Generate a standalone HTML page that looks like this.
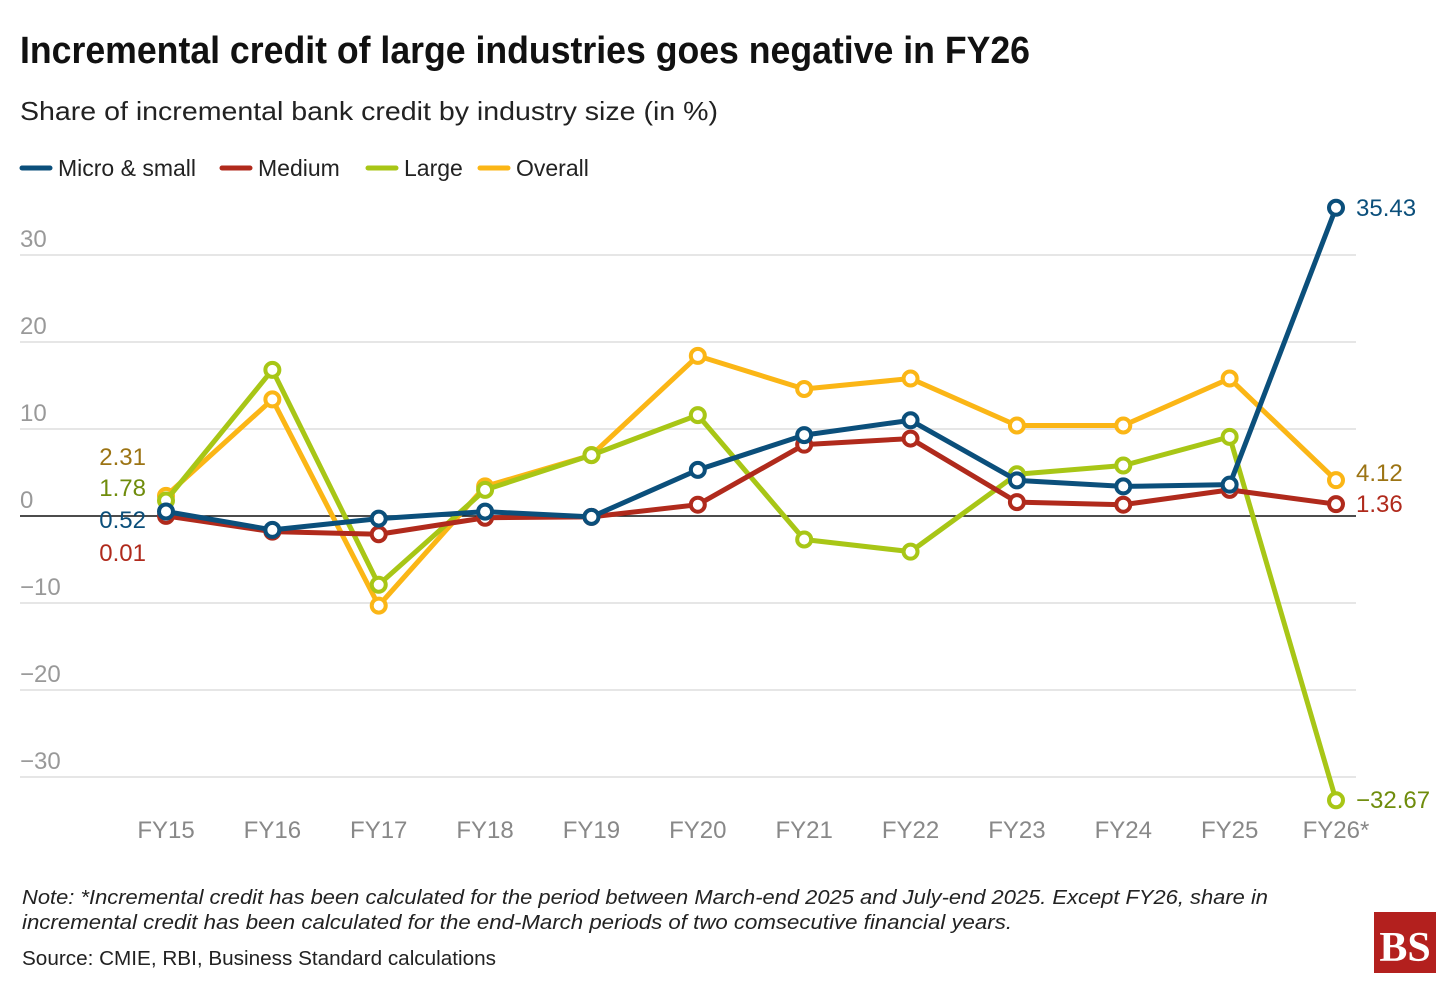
<!DOCTYPE html>
<html><head><meta charset="utf-8"><style>
html,body{margin:0;padding:0;background:#fff;}
body{width:1456px;height:991px;overflow:hidden;font-family:"Liberation Sans Narrow","Liberation Sans",sans-serif;}
svg text{font-family:"Liberation Sans Narrow","Liberation Sans",sans-serif;}
</style></head><body>
<svg id="chart" width="1456" height="991" viewBox="0 0 1456 991" xmlns="http://www.w3.org/2000/svg">
<text x="20" y="63" font-size="38" font-weight="bold" fill="#111" textLength="1010" lengthAdjust="spacingAndGlyphs">Incremental credit of large industries goes negative in FY26</text>
<text x="20" y="120" font-size="26" fill="#222" textLength="698" lengthAdjust="spacingAndGlyphs">Share of incremental bank credit by industry size (in %)</text>
<g id="legend"></g>
<g id="grid"></g>
<g id="xaxis"></g>
<g id="series"></g>
<g id="labels"></g>
<text x="22" y="904" font-size="20" font-style="italic" fill="#222" textLength="1246" lengthAdjust="spacingAndGlyphs">Note: *Incremental credit has been calculated for the period between March-end 2025 and July-end 2025. Except FY26, share in</text>
<text x="22" y="929" font-size="20" font-style="italic" fill="#222" textLength="990" lengthAdjust="spacingAndGlyphs">incremental credit has been calculated for the end-March periods of two comsecutive financial years.</text>
<text x="22" y="965" font-size="20" fill="#222" textLength="474" lengthAdjust="spacingAndGlyphs">Source: CMIE, RBI, Business Standard calculations</text>
<g>
<rect x="1374" y="912" width="62" height="61" fill="#b3201e"/>
<text x="1405" y="961" font-size="42" font-weight="bold" text-anchor="middle" fill="#fff" style="font-family:'Liberation Serif',serif">BS</text>
</g>
</svg>
<script>
const categories=["FY15","FY16","FY17","FY18","FY19","FY20","FY21","FY22","FY23","FY24","FY25","FY26*"];
const yTicks=[30,20,10,0,-10,-20,-30];
const microSmall=[0.52,-1.6,-0.3,0.5,-0.1,5.3,9.3,11.0,4.1,3.4,3.6,35.43];
const medium=[0.01,-1.8,-2.1,-0.2,-0.1,1.3,8.2,8.9,1.6,1.3,3.0,1.36];
const large=[1.78,16.8,-7.9,3.0,7.0,11.6,-2.7,-4.1,4.8,5.8,9.1,-32.67];
const overall=[2.31,13.4,-10.3,3.4,7.0,18.4,14.6,15.8,10.4,10.4,15.8,4.12];
const seriesNames=["Micro & small","Medium","Large","Overall"];

const NS="http://www.w3.org/2000/svg";
function mk(tag,attrs,parent){const e=document.createElementNS(NS,tag);for(const k in attrs)e.setAttribute(k,attrs[k]);parent.appendChild(e);return e;}
const x=i=>166+i*(1336-166)/(categories.length-1);
const y=v=>516-v*8.7;

const grid=document.getElementById('grid');
yTicks.forEach(t=>{
  const l=mk('line',{x1:20,x2:1356,y1:y(t),y2:y(t),stroke:t===0?'#111':'#ddd','stroke-width':1.5},grid);
  
  
  const tx=mk('text',{x:20,y:y(t)-8,'font-size':24,fill:'#999'},grid);
  tx.textContent=t<0?'\u2212'+Math.abs(t):String(t);
  
  
});
const xa=document.getElementById('xaxis');
categories.forEach((c,i)=>{
  const tx=mk('text',{x:x(i),y:838,'font-size':24,fill:'#888','text-anchor':'middle'},xa);
  tx.textContent=c;
  
  
});

const colors=['#0b4f7b','#b02a1c','#a8c616','#fbb616'];
const data=[microSmall,medium,large,overall];
const order=[3,2,1,0];
const sg=document.getElementById('series');
order.forEach(si=>{
  const g=mk('g',{},sg);
  
  
  const pts=data[si].map((v,i)=>x(i)+','+y(v)).join(' ');
  const pl=mk('polyline',{points:pts,fill:'none',stroke:colors[si],'stroke-width':5,'stroke-linejoin':'round'},g);
  
  
  data[si].forEach((v,i)=>{
    const c=mk('circle',{cx:x(i),cy:y(v),r:7,fill:'#fff',stroke:colors[si],'stroke-width':4},g);
    
    
  });
});

const lg=document.getElementById('legend');
const lx=[22,222,368,480];
seriesNames.forEach((n,i)=>{
  const l=mk('line',{x1:lx[i],x2:lx[i]+28,y1:168,y2:168,stroke:colors[i],'stroke-width':5,'stroke-linecap':'round'},lg);
  
  
  const t=mk('text',{x:lx[i]+36,y:176,'font-size':23,fill:'#222'},lg);
  t.textContent=n;
  
  
});

const lb=document.getElementById('labels');
const labelColors=['#0b4f7b','#b02a1c','#6f8c0c','#9c7414'];
const fmt=v=>(v<0?'\u2212':'')+Math.abs(v).toFixed(2);
const last=categories.length-1;
const leftDy=[12,45,-20,-51];
const rightDy=[8,8,8,1];
data.forEach((d,si)=>{
  const t1=mk('text',{x:146,y:y(0)+leftDy[si],'font-size':24,fill:labelColors[si],'text-anchor':'end'},lb);
  t1.textContent=fmt(d[0]);
  
  
  const t2=mk('text',{x:1356,y:y(d[last])+rightDy[si],'font-size':24,fill:labelColors[si]},lb);
  t2.textContent=fmt(d[last]);
  
  
});
</script>
</body></html>
